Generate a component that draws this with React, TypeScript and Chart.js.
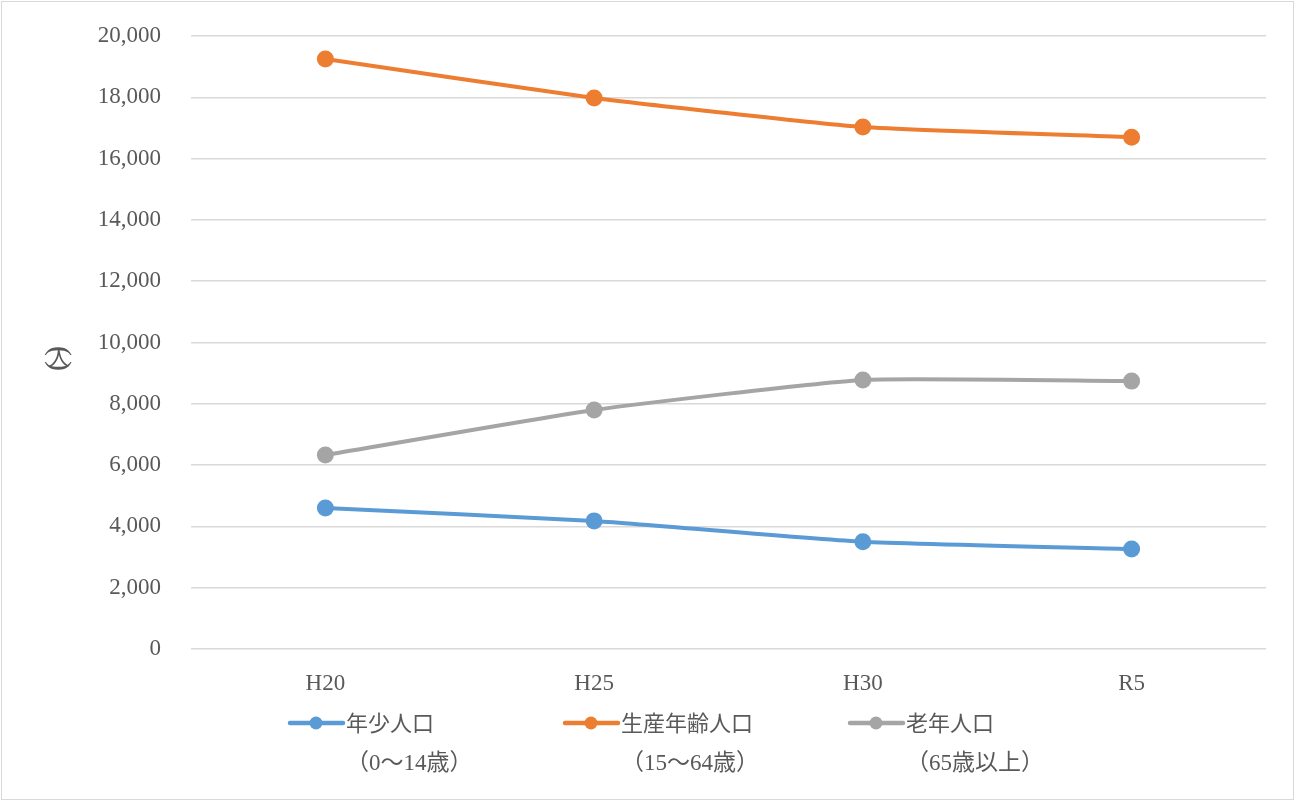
import React, { useEffect, useRef } from "react";
import { Chart, registerables } from "chart.js";

Chart.register(...registerables);

const categories = ["H20", "H25", "H30", "R5"];
const youthValues = [4600, 4180, 3500, 3260];
const workingValues = [19250, 17980, 17030, 16700];
const elderlyValues = [6330, 7800, 8780, 8740];
const seriesNames = ["年少人口", "生産年齢人口", "老年人口"];
const seriesSubNames = ["（0～14歳）", "（15～64歳）", "（65歳以上）"];
const seriesColors = ["#5B9BD5", "#ED7D31", "#A5A5A5"];
const yTitleChars = ["(", "人", ")"];

const FONT = '"Liberation Serif", "Noto Sans CJK JP", serif';
const TEXT = "#595959";

export default function App() {
  const ref = useRef<HTMLCanvasElement>(null);
  useEffect(() => {
    document.body.style.margin = "0";
    const legendX = [288, 563, 848];
    const plugin = {
      id: "extras",
      afterDraw(chart: any) {
        const ctx = chart.ctx as CanvasRenderingContext2D;
        ctx.save();
        // border
        ctx.strokeStyle = "#D9D9D9";
        ctx.lineWidth = 1;
        ctx.strokeRect(1.5, 1.5, 1292, 798);
        // y title (vertical)
        ctx.fillStyle = TEXT;
        ctx.textAlign = "center";
        ctx.textBaseline = "middle";
        ctx.font = '30px "Liberation Serif", serif';
        [[yTitleChars[0], 351], [yTitleChars[2], 366]].forEach(([ch, yy]) => {
          ctx.save();
          ctx.translate(59, yy as number);
          ctx.rotate(Math.PI / 2);
          ctx.fillText(ch as string, 0, 0);
          ctx.restore();
        });
        ctx.font = '21px "Noto Sans CJK JP", sans-serif';
        ctx.fillText(yTitleChars[1], 59, 357);
        // legend
        ctx.textAlign = "left";
        seriesNames.forEach((name, i) => {
          const x = legendX[i];
          const y = 723;
          ctx.strokeStyle = seriesColors[i];
          ctx.lineWidth = 4.5;
          ctx.lineCap = "round";
          ctx.beginPath();
          ctx.moveTo(x + 2, y);
          ctx.lineTo(x + 55, y);
          ctx.stroke();
          ctx.fillStyle = seriesColors[i];
          ctx.beginPath();
          ctx.arc(x + 28, y, 6.5, 0, Math.PI * 2);
          ctx.fill();
          ctx.fillStyle = TEXT;
          ctx.font = '22px "Noto Sans CJK JP", sans-serif';
          ctx.fillText(name, x + 58, y);
          ctx.font = '23px ' + FONT;
          ctx.fillText(seriesSubNames[i], x + 58, 764);
        });
        ctx.restore();
      },
    };
    const mk = (data: number[], i: number) => ({
      label: seriesNames[i],
      data,
      borderColor: seriesColors[i],
      backgroundColor: seriesColors[i],
      pointBackgroundColor: seriesColors[i],
      pointBorderColor: seriesColors[i],
      borderWidth: 4,
      pointRadius: 6.5,
      pointHoverRadius: 6.5,
      tension: 0.15,
    });
    const zeroPad = (s: any) => {
      s.paddingTop = 0;
      s.paddingBottom = 0;
      s.paddingLeft = 0;
      s.paddingRight = 0;
    };
    const chart = new Chart(ref.current!, {
      type: "line",
      data: {
        labels: categories,
        datasets: [mk(youthValues, 0), mk(workingValues, 1), mk(elderlyValues, 2)],
      },
      options: {
        responsive: false,
        animation: false,
        layout: { padding: { left: 0, right: 31, top: 36, bottom: 0 } },
        plugins: { legend: { display: false }, tooltip: { enabled: false } },
        scales: {
          x: {
            offset: true,
            grid: { display: false, drawTicks: false },
            border: { display: false },
            ticks: { color: TEXT, font: { family: FONT, size: 23 }, padding: 21 },
            afterFit: (s: any) => {
              s.height = 153;
              zeroPad(s);
            },
          },
          y: {
            min: 0,
            max: 20000,
            ticks: {
              stepSize: 2000,
              color: TEXT,
              font: { family: FONT, size: 23 },
              padding: 30,
              callback: (v: any) => Number(v).toLocaleString("en-US"),
            },
            grid: { color: "#D9D9D9", lineWidth: 1.5, drawTicks: false },
            border: { display: false },
            afterFit: (s: any) => {
              s.width = 191;
              zeroPad(s);
            },
          },
        },
      },
      plugins: [plugin],
    });
    return () => chart.destroy();
  }, []);
  return <canvas ref={ref} width={1297} height={802} style={{ display: "block" }} />;
}
